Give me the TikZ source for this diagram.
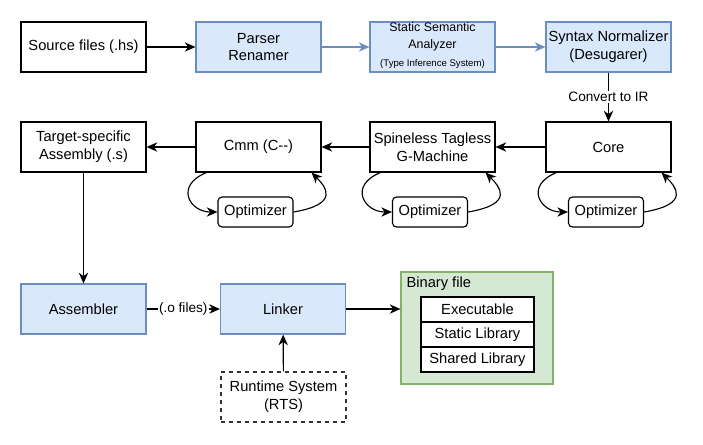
\documentclass[tikz,border=0pt]{standalone}
\usepackage{fontspec}
\setmainfont{Liberation Sans}
\usetikzlibrary{arrows.meta,calc}
\definecolor{bfill}{HTML}{DAE8FC}
\definecolor{bline}{HTML}{6C8EBF}
\definecolor{gfill}{HTML}{D5E8D4}
\definecolor{gline}{HTML}{82B366}
\definecolor{dline}{HTML}{333333}
\begin{document}
\begin{tikzpicture}[x=0.75pt,y=-0.75pt,line width=0.85pt,
  font=\fontsize{11}{13.3}\selectfont,
  box/.style={draw=black,fill=white,minimum width=93.75pt,minimum height=37.5pt,inner sep=0pt,align=center},
  bbox/.style={box,draw=bline,fill=bfill},
  opt/.style={draw=black,fill=white,rounded corners=3pt,minimum width=56.25pt,minimum height=22.5pt,inner sep=0pt},
  row/.style={draw=black,fill=white,minimum width=84.75pt,minimum height=18.75pt,inner sep=0pt},
  arr/.style={-{Stealth[length=8pt,width=7pt,inset=2.5pt]}},
  lbl/.style={fill=white,inner sep=1pt,font=\fontsize{10.2}{12}\selectfont}]
\useasboundingbox (0,0) rectangle (703,444);
% row 1
\node[box]  (src) at (83.5,47) {Source files (.hs)};
\node[bbox] (par) at (258.5,47) {Parser\\Renamer};
\node[bbox] (sta) at (432.5,47) {};
\node[inner sep=0pt,font=\fontsize{9.3}{11}\selectfont] (sta1) at (432.5,27.5) {Static Semantic};
\node[inner sep=0pt,font=\fontsize{9.3}{11}\selectfont] (sta2) at (432.5,45.5) {Analyzer};
\node[inner sep=0pt,font=\fontsize{7.2}{8}\selectfont] (sta3) at (432.5,64) {(Type Inference System)};
\node[bbox] (syn) at (608.5,47) {Syntax Normalizer\\(Desugarer)};
% row 2
\node[box] (tgt) at (83.5,147) {Target-specific\\Assembly (.s)};
\node[box] (cmm) at (258.5,147) {Cmm (C-{}-)};
\node[box] (stg) at (432.5,147) {Spineless Tagless\\G-Machine};
\node[box] (core) at (608.5,147) {Core};
\node[opt] (o1) at (255.5,212) {Optimizer};
\node[opt] (o2) at (430,212) {Optimizer};
\node[opt] (o3) at (606,212) {Optimizer};
% row 3
\node[bbox] (asm) at (83.5,309) {Assembler};
\node[bbox] (lnk) at (283,309) {Linker};
\node[box,draw=dline,dashed] (rts) at (283.5,397) {Runtime System\\(RTS)};
\node[draw=gline,fill=gfill,minimum width=114pt,minimum height=84pt,inner sep=0pt] (bin) at (477,328) {};
\node[anchor=west,inner sep=0pt] (binl) at (406,283.5) {Binary file};
\node[row] (r1) at (477.5,309.5) {Executable};
\node[row] (r2) at (477.5,334.5) {Static Library};
\node[row] (r3) at (477.5,359.5) {Shared Library};
% edges
\draw[arr] (src) -- (par);
\draw[arr,draw=bline,fill=bline] (par) -- (sta);
\draw[arr,draw=bline,fill=bline] (sta) -- (syn);
\draw[arr] (syn) -- node[lbl] {Convert to IR} (core);
\draw[arr] (core) -- (stg);
\draw[arr] (stg) -- (cmm);
\draw[arr] (cmm) -- (tgt);
\draw[arr] (tgt) -- (asm);
\draw[arr] (asm) -- node[lbl] {(.o files)} (lnk);
\draw[arr] (rts) -- (lnk);
\draw[arr] (lnk) -- (lnk -| bin.west);
% optimizer loops
\foreach \b/\o in {cmm/o1,stg/o2,core/o3}{
  \draw[arr] ($(\b.south west)+(11,0)$) .. controls +(-32,13) and +(-28,0) .. (\o.west);
  \draw[arr] (\o.east) .. controls +(47,-8) and +(14,14) .. ($(\b.south east)+(-10,0)$);
}
\end{tikzpicture}
\end{document}
